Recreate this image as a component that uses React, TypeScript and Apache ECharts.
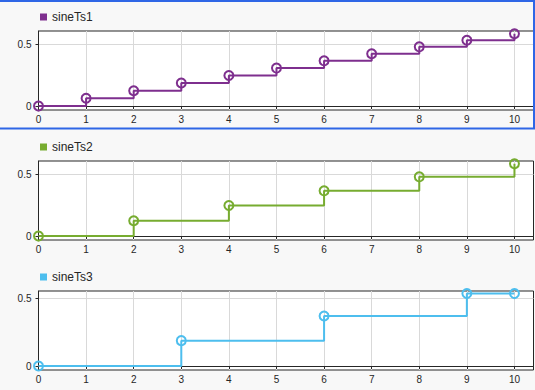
import React, { useEffect, useRef } from "react";
import * as echarts from "echarts";

const t1 = [0, 1, 2, 3, 4, 5, 6, 7, 8, 9, 10];
const sineTs1 = [0, 0.063, 0.125, 0.187, 0.249, 0.309, 0.368, 0.426, 0.482, 0.536, 0.588];
const t2 = [0, 2, 4, 6, 8, 10];
const sineTs2 = [0, 0.125, 0.249, 0.368, 0.482, 0.588];
const t3 = [0, 3, 6, 9, 10];
const sineTs3 = [0, 0.187, 0.368, 0.533, 0.533];
const seriesNames = ["sineTs1", "sineTs2", "sineTs3"];
const colors = ["#7E2F8E", "#77AC30", "#4DBEEE"];
const xTicks = [0, 1, 2, 3, 4, 5, 6, 7, 8, 9, 10];
const yTicks = [0, 0.5];
const yLimits = [
  [-0.032, 0.611],
  [-0.032, 0.611],
  [-0.029, 0.552],
];

export default function App() {
  const ref = useRef<HTMLDivElement>(null);
  useEffect(() => {
    if (!ref.current) return;
    const chart = echarts.init(ref.current, undefined, { renderer: "svg" });
    const times = [t1, t2, t3];
    const values = [sineTs1, sineTs2, sineTs3];
    const tops = [31, 161, 291];
    const legendTops = [11, 141, 271];
    const textColor = "#262626";
    const grids = tops.map((top) => ({
      left: 38.5,
      top,
      width: 495,
      height: 79,
      show: true,
      backgroundColor: "#ffffff",
      borderColor: "#262626",
      borderWidth: 1,
    }));
    const xAxes = tops.map((_, i) => ({
      type: "value",
      gridIndex: i,
      min: 0,
      max: 10.4,
      interval: 1,
      axisLine: { show: true, lineStyle: { color: "#262626" } },
      axisTick: { show: true, length: 3, inside: false, customValues: xTicks, lineStyle: { color: "#262626" } },
      axisLabel: {
        customValues: xTicks,
        fontSize: 10,
        margin: 4,
        color: textColor,
        fontFamily: "Liberation Sans, Arial, sans-serif",
        formatter: (v: number) => (Number.isInteger(v) ? String(v) : ""),
      },
      splitLine: { show: true, lineStyle: { color: "#d9d9d9", width: 1 } },
    }));
    const yAxes = tops.map((_, i) => ({
      type: "value",
      gridIndex: i,
      min: yLimits[i][0],
      max: yLimits[i][1],
      interval: 0.5,
      axisLine: { show: true, lineStyle: { color: "#262626" } },
      axisTick: { show: true, length: 3, inside: false, customValues: yTicks, lineStyle: { color: "#262626" } },
      axisLabel: {
        customValues: yTicks,
        fontSize: 10,
        margin: 7,
        color: textColor,
        fontFamily: "Liberation Sans, Arial, sans-serif",
        formatter: (v: number) => (v === 0 || v === 0.5 ? String(v) : ""),
      },
      splitLine: { show: true, lineStyle: { color: "#d9d9d9", width: 1 } },
    }));
    const series = seriesNames.map((name, i) => ({
      name,
      type: "line",
      xAxisIndex: i,
      yAxisIndex: i,
      step: "end",
      data: times[i].map((t, k) => [t, values[i][k]]),
      symbol: "circle",
      symbolSize: 9,
      showAllSymbol: true,
      lineStyle: { color: colors[i], width: 2 },
      itemStyle: { color: "rgba(0,0,0,0)", borderColor: colors[i], borderWidth: 2 },
      z: 3,
    }));
    const legends = seriesNames.map((name, i) => ({
      left: 40,
      top: legendTops[i],
      padding: 0,
      icon: "rect",
      itemWidth: 7,
      itemHeight: 7,
      selectedMode: false,
      data: [{ name, itemStyle: { color: colors[i], borderWidth: 0 } }],
      textStyle: { fontSize: 12, color: textColor, fontFamily: "Liberation Sans, Arial, sans-serif" },
    }));
    chart.setOption({
      animation: false,
      backgroundColor: "#f8f8f8",
      grid: grids,
      xAxis: xAxes,
      yAxis: yAxes,
      legend: legends,
      series,
      graphic: [
        {
          type: "rect",
          shape: { x: -1, y: 1, width: 535, height: 127.5 },
          style: { fill: "none", stroke: "#2f66e6", lineWidth: 2 },
          z: 10,
          silent: true,
        },
      ],
    });
    return () => chart.dispose();
  }, []);
  return (
    <div
      ref={ref}
      style={{ position: "fixed", left: 0, top: 0, width: 535, height: 390 }}
    />
  );
}
